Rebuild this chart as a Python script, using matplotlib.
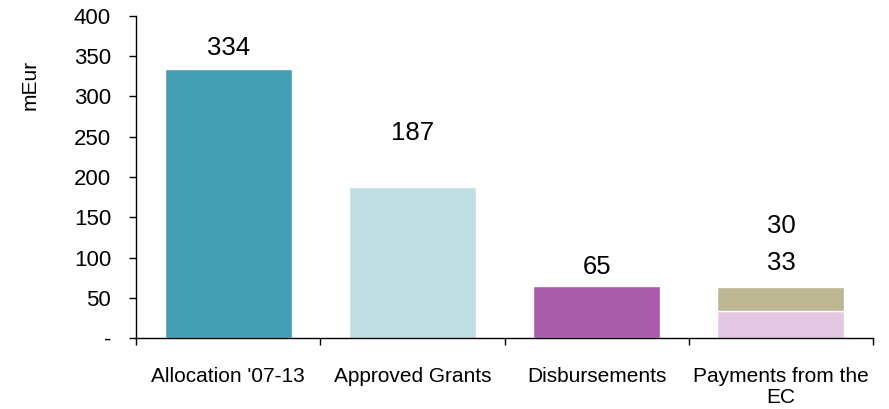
import matplotlib
matplotlib.use("Agg")
import matplotlib.pyplot as plt
import numpy as np

plt.rcParams['font.family'] = ['Liberation Sans', 'DejaVu Sans']

categories = ["Allocation '07-13", "Approved Grants", "Disbursements", "Payments from the\nEC"]
main_values = [334, 187, 65, 33]
top_values = [0, 0, 0, 30]
main_colors = ["#429eb0", "#c0dfe3", "#a85caa", "#e3c7e3"]
top_color = "#bcb693"
# label positions (data units) as placed in the original chart
main_label_y = [360, 255, 88, 93]
top_label_y = [None, None, None, 139]
yticks = [0, 50, 100, 150, 200, 250, 300, 350, 400]
yticklabels = ["-", "50", "100", "150", "200", "250", "300", "350", "400"]

fig = plt.figure(figsize=(8.89, 4.09), dpi=100)
ax = fig.add_axes([136/889, 1-338/409, (873-136)/889, (338-16)/409])

x = np.arange(len(categories))
w = 0.69
ax.bar(x, main_values, width=w, color=main_colors, edgecolor="white", linewidth=1)
for i, tv in enumerate(top_values):
    if tv:
        ax.bar(x[i], tv, bottom=main_values[i], width=w, color=top_color, edgecolor="white", linewidth=1)

for i, v in enumerate(main_values):
    ax.text(x[i], main_label_y[i], str(v), ha="center", va="center", fontsize=18.5)
for i, v in enumerate(top_values):
    if v:
        ax.text(x[i], top_label_y[i], str(v), ha="center", va="center", fontsize=18.5)

ax.set_xlim(-0.5, len(categories) - 0.5)
ax.set_ylim(0, 400)
ax.set_yticks(yticks)
ax.set_yticklabels(yticklabels, fontsize=16)
ax.tick_params(axis="y", direction="out", length=5, width=1, pad=13)

ax.set_xticks(np.arange(-0.5, len(categories), 1.0))
ax.set_xticklabels([])
ax.tick_params(axis="x", which="major", direction="out", length=5, width=1)
ax.set_xticks(x, minor=True)
ax.set_xticklabels(categories, minor=True, fontsize=15, linespacing=1.1)
ax.tick_params(axis="x", which="minor", length=0, pad=21)

for s in ["top", "right"]:
    ax.spines[s].set_visible(False)
for s in ["left", "bottom"]:
    ax.spines[s].set_linewidth(1)

fig.text(30/889, 1-85/409, "mEur", rotation=90, ha="center", va="center", fontsize=15)

fig.savefig("out.png", dpi=100)
